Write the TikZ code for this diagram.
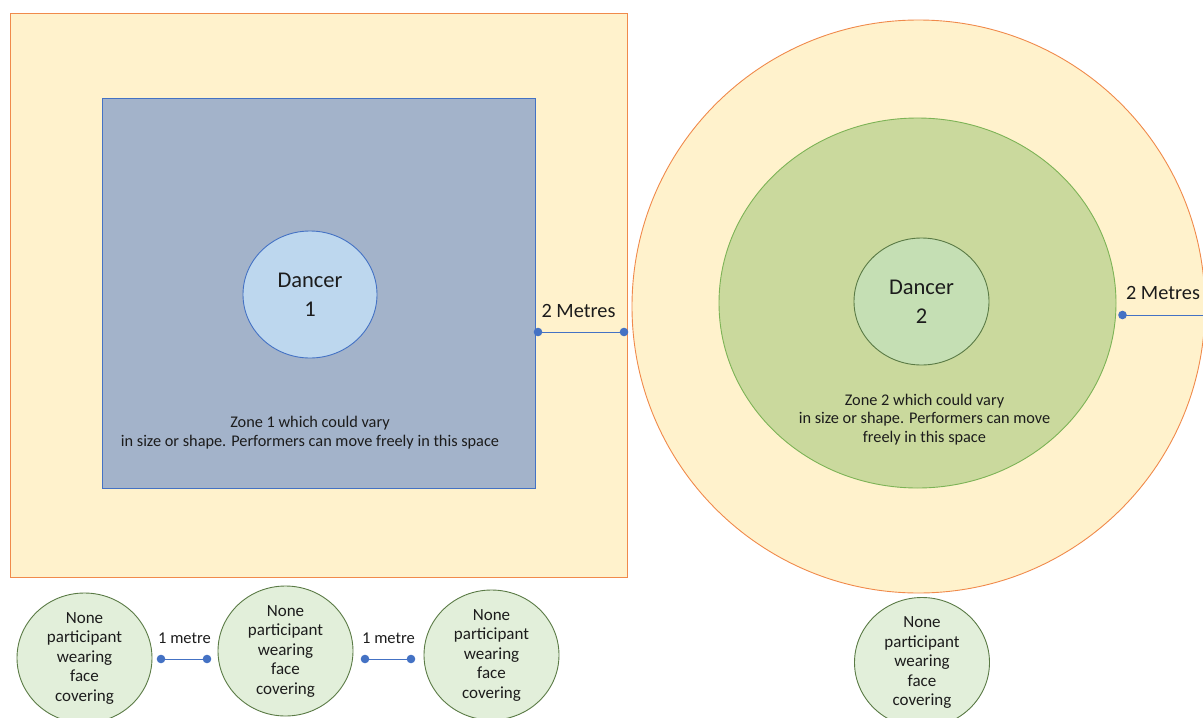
\documentclass[tikz,border=0pt]{standalone}
\usepackage{fontspec}
\setmainfont{Carlito}
\usetikzlibrary{shapes.geometric}
\definecolor{peach}{HTML}{FFF2CC}
\definecolor{orangeline}{HTML}{F08A4B}
\definecolor{zoneblue}{HTML}{A3B3CA}
\definecolor{blueline}{HTML}{4472C4}
\definecolor{dancerblue}{HTML}{BDD7EE}
\definecolor{zonegreen}{HTML}{CAD99D}
\definecolor{greenline}{HTML}{7DB356}
\definecolor{dancergreen}{HTML}{C5DFB4}
\definecolor{darkgreen}{HTML}{5A7A45}
\definecolor{palegreen}{HTML}{E2EFDA}
\definecolor{txt}{HTML}{1C1C1C}
\begin{document}
\begin{tikzpicture}[x=1pt,y=-1pt,
  outerzone/.style={draw=orangeline, fill=peach, line width=0.9pt, inner sep=0pt},
  innerzone/.style={draw=blueline, fill=zoneblue, line width=0.8pt, inner sep=0pt},
  dancerone/.style={ellipse, draw=blueline, fill=dancerblue, line width=0.9pt, inner sep=0pt,
     minimum width=134, minimum height=127, text=txt, align=center,
     font=\fontsize{22.5}{29}\selectfont},
  greenzone/.style={ellipse, draw=greenline, fill=zonegreen, line width=0.9pt, inner sep=0pt},
  dancertwo/.style={ellipse, draw=darkgreen, fill=dancergreen, line width=0.9pt, inner sep=0pt,
     minimum width=135, minimum height=127, text=txt, align=center,
     font=\fontsize{22.5}{29}\selectfont},
  person/.style={ellipse, draw=darkgreen, fill=palegreen, line width=0.9pt, inner sep=0pt,
     minimum width=135, minimum height=130, text=txt, align=center,
     font=\fontsize{17}{19.5}\selectfont},
  zonetext/.style={text=txt, align=center, inner sep=0pt, font=\fontsize{16.3}{18.7}\selectfont},
  measure/.style={draw=blueline, line width=0.9pt},
  measurelabel/.style={text=txt, inner sep=0pt, anchor=base},
  bigmeasure/.style={font=\fontsize{20.3}{24}\selectfont},
  smallmeasure/.style={font=\fontsize{16.5}{20}\selectfont},
  enddot/.style={fill=blueline}
]
\useasboundingbox (0,0) rectangle (1203,718);
\clip (0,0) rectangle (1203,718);

% Left zone
\node[outerzone, rectangle, minimum width=617, minimum height=564] (out1) at (318.5,295) {};
\node[innerzone, rectangle, minimum width=433, minimum height=390] (zone1) at (318.5,293) {};
\node[dancerone] (dancer1) at (310,294.5) {Dancer\\1};
\node[zonetext] (z1text) at (310,432.5) {Zone 1 which could vary\\in size or shape. Performers can move freely in this space};

% Right zone
\node[outerzone, ellipse, minimum width=573, minimum height=573] (out2) at (918.5,306.5) {};
\node[greenzone, minimum width=397, minimum height=370] (zone2) at (917.5,303) {};
\node[dancertwo] (dancer2) at (921.5,301.5) {Dancer\\2};
\node[zonetext] (z2text) at (924.5,419.5) {Zone 2 which could vary\\in size or shape. Performers can move\\freely in this space};

% 2 metre measures
\coordinate (m1a) at (538,332);
\coordinate (m1b) at (624,332);
\draw[measure] (m1a) -- (m1b);
\fill[enddot] (m1a) circle (4.3);
\fill[enddot] (m1b) circle (4.3);
\node[measurelabel, bigmeasure] (m1lab) at (578.5,317) {2 Metres};

\coordinate (m2a) at (1122.5,315);
\coordinate (m2b) at (1215,315);
\draw[measure] (m2a) -- (m2b);
\fill[enddot] (m2a) circle (4.3);
\node[measurelabel, bigmeasure] (m2lab) at (1163,299) {2 Metres};

% Bottom people
\node[person] (p1) at (84.5,658) {None\\participant\\wearing\\face\\covering};
\node[person] (p2) at (285.5,651) {None\\participant\\wearing\\face\\covering};
\node[person] (p3) at (491.5,655) {None\\participant\\wearing\\face\\covering};
\node[person] (p4) at (922,662.5) {None\\participant\\wearing\\face\\covering};

% 1 metre measures
\coordinate (s1a) at (161,659);
\coordinate (s1b) at (207,659);
\draw[measure] (s1a) -- (s1b);
\fill[enddot] (s1a) circle (4.3);
\fill[enddot] (s1b) circle (4.3);
\node[measurelabel, smallmeasure] (s1lab) at (184.5,643) {1 metre};

\coordinate (s2a) at (365,659);
\coordinate (s2b) at (411,659);
\draw[measure] (s2a) -- (s2b);
\fill[enddot] (s2a) circle (4.3);
\fill[enddot] (s2b) circle (4.3);
\node[measurelabel, smallmeasure] (s2lab) at (388.5,643) {1 metre};
\end{tikzpicture}
\end{document}
